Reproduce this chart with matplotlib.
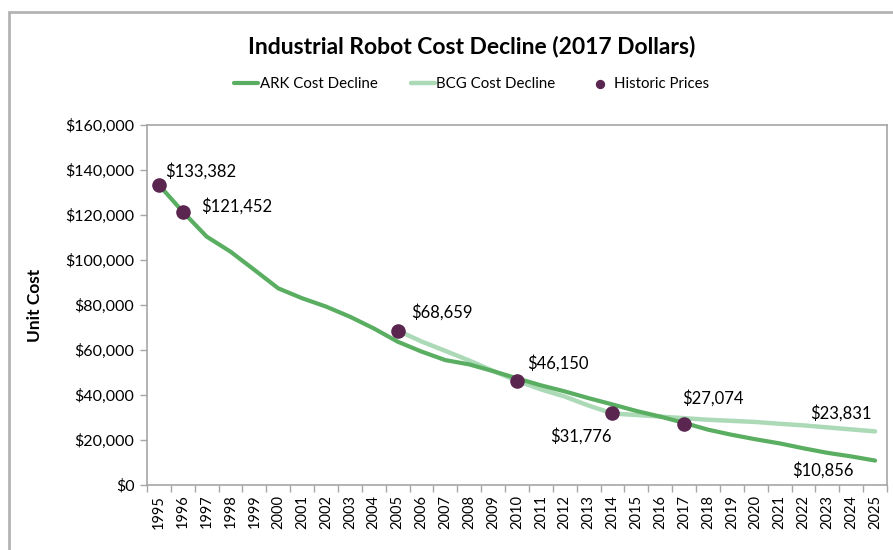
import numpy as np
import matplotlib.pyplot as plt
from matplotlib.patches import Rectangle

years = list(range(1995, 2026))

# ARK cost decline, 1995-2025
ark_cost = [133382, 121452, 110400, 103700, 95600, 87400, 83000, 79300, 74800, 69600,
            63700, 59300, 55500, 53600, 50600, 47400, 44300, 41600, 38600, 35800,
            32900, 30400, 27600, 24600, 22300, 20300, 18500, 16300, 14300, 12700, 10856]

# BCG cost decline, 2005-2025
bcg_years = list(range(2005, 2026))
bcg_cost = [68659, 63800, 59600, 55300, 50700, 46300, 42500, 39300, 35300, 31776,
            31100, 30400, 29700, 29000, 28500, 28000, 27200, 26500, 25600, 24700, 23831]

# historic prices
hist_years = [1995, 1996, 2005, 2010, 2014, 2017]
hist_cost = [133382, 121452, 68659, 46150, 31776, 27074]

ark_color = '#5aae61'
bcg_color = '#acdab7'
dot_color = '#5a2650'
grey = '#a6a6a6'
font = 'Lato'

fig = plt.figure(figsize=(8.93, 5.5), dpi=100)
ax = fig.add_axes([0.1646, 0.1182, 0.8287, 0.6545])

x_ark = [y - 1995 for y in years]
x_bcg = [y - 1995 for y in bcg_years]
x_hist = [y - 1995 for y in hist_years]

ax.plot(x_bcg, bcg_cost, color=bcg_color, lw=3.2, solid_capstyle='round', zorder=2,
        label='BCG Cost Decline')
ax.plot(x_ark, ark_cost, color=ark_color, lw=3.0, solid_capstyle='round', zorder=3,
        label='ARK Cost Decline')
ax.scatter(x_hist, hist_cost, s=90, color=dot_color, zorder=4, label='Historic Prices')

# data labels
lab_kw = dict(textcoords='offset pixels', fontsize=12, family=font, color='black', va='center')
def money(v):
    return '${:,}'.format(v)

offsets = [(6, 14, 'left'), (18, 6, 'left'), (13, 18, 'left'), (10, 18, 'left'),
           (-1, -23, 'right'), (-2, 26, 'left')]
for xh, v, (dx, dy, ha) in zip(x_hist, hist_cost, offsets):
    ax.annotate(money(v), (xh, v), xytext=(dx, dy), ha=ha, **lab_kw)
ax.annotate(money(bcg_cost[-1]), (x_bcg[-1], bcg_cost[-1]), xytext=(-3, 18), ha='right', **lab_kw)
ax.annotate(money(ark_cost[-1]), (x_ark[-1], ark_cost[-1]), xytext=(-21, -10), ha='right', **lab_kw)

ax.set_xlim(-0.5, len(years) - 0.5)
ax.set_ylim(0, 160000)
ax.set_yticks(np.arange(0, 160001, 20000))
ax.set_yticklabels([money(v) for v in range(0, 160001, 20000)], family=font, fontsize=11.5)
ax.set_xticks(range(len(years)))
ax.set_xticklabels([str(y) for y in years], rotation=90, family=font, fontsize=10.5)
ax.set_xticks(np.arange(-0.5, len(years), 1), minor=True)
ax.tick_params(axis='x', which='major', length=0, pad=7)
ax.tick_params(axis='x', which='minor', length=5, color=grey, width=1)
ax.tick_params(axis='y', length=5, color=grey, width=1, pad=4)
for s in ax.spines.values():
    s.set_color(grey)
    s.set_linewidth(1.2)

ax.set_ylabel('Unit Cost', family=font, fontsize=12.5, fontweight='bold')
ax.yaxis.set_label_coords(-0.141, 0.5)

fig.text(0.528, 0.915, 'Industrial Robot Cost Decline (2017 Dollars)', ha='center', va='center',
         fontsize=16.5, fontweight='bold', family=font)

handles, labels = ax.get_legend_handles_labels()
order = [1, 0, 2]
leg = fig.legend([handles[i] for i in order], [labels[i] for i in order],
                 loc='center', bbox_to_anchor=(0.528, 0.847), ncol=3, frameon=False,
                 prop={'family': font, 'size': 10.8}, handlelength=1.6, handletextpad=0.1,
                 columnspacing=2.2, markerscale=0.6)

# outer chart border (cut off on the right and bottom)
fig.patches.append(Rectangle((9 / 893, -0.1), 1.2, 1 - 12 / 550 + 0.1, transform=fig.transFigure,
                             fill=False, edgecolor='#b3b3b3', lw=2))

fig.savefig('out.png', dpi=100)
